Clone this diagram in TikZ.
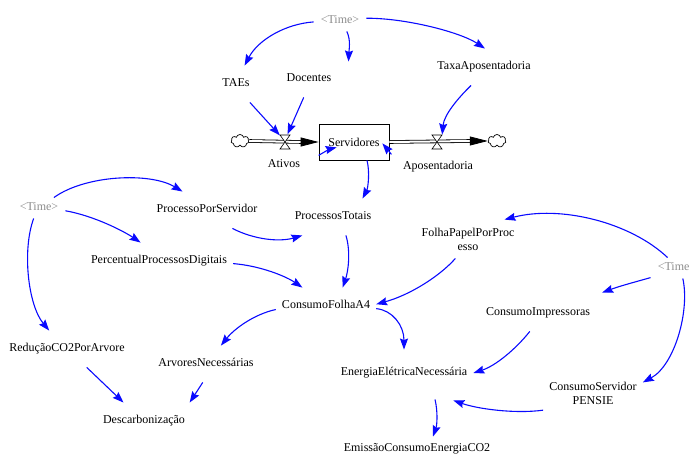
\documentclass[tikz,border=0pt]{standalone}
\usepackage{fontspec}
\setmainfont{Liberation Serif}
\usetikzlibrary{arrows.meta,shapes.symbols}
\definecolor{tgray}{RGB}{140,140,140}
\definecolor{lblue}{RGB}{10,10,255}
\begin{document}
\begin{tikzpicture}[x=1pt,y=1pt,
  every node/.style={font=\fontsize{12}{14}\selectfont},
  var/.style={inner xsep=6pt, inner ysep=13pt, text height=8pt, text depth=2.5pt},
  vartwo/.style={inner xsep=6pt, inner ysep=8pt, align=center},
  tvar/.style={text=tgray, inner xsep=7pt, inner ysep=5pt, text height=8pt, text depth=2.5pt},
  conn/.style={draw=lblue, line width=1.1pt, -{Stealth[length=11pt,width=8pt,inset=1.5pt]}},
  stockbox/.style={draw, line width=0.8pt, minimum width=70pt, minimum height=36pt, inner sep=0pt},
  valvept/.style={inner sep=0pt, minimum width=10pt, minimum height=15pt},
  cloudsh/.style={cloud, cloud puffs=7, aspect=1.3, draw, line width=0.7pt, minimum width=18pt, minimum height=13pt, inner sep=0pt},
  pipeline/.style={draw, double, double distance=2pt, line width=0.8pt},
  pipehead/.style={draw, line width=0.8pt, -{Triangle[length=18pt,width=9pt]}},
  valveglyph/.style={draw, line width=0.6pt, fill=white},
]
\useasboundingbox (0,0) rectangle (689,-457);

% nodes
\node[tvar] (timeT) at (340,-21) {\textless Time\textgreater};
\node[var] (taes) at (236,-84) {TAEs};
\node[var] (doc) at (309,-79) {Docentes};
\node[var] (taxa) at (484,-67) {TaxaAposentadoria};
\node[stockbox] (serv) at (354,-142) {Servidores};
\node[valvept] (ativosV) at (285,-142) {};
\node[valvept] (apoV) at (437,-142) {};
\node[cloudsh] (cloudL) at (240,-141) {};
\node[cloudsh] (cloudR) at (497,-141) {};
\node[var] (ativosL) at (284,-165) {Ativos};
\node[var] (apoL) at (438,-167) {Aposentadoria};
\node[tvar] (timeL) at (39,-208) {\textless Time\textgreater};
\node[var] (pps) at (207,-210) {ProcessoPorServidor};
\node[var] (pt) at (333,-217) {ProcessosTotais};
\node[var] (ppd) at (159,-261) {PercentualProcessosDigitais};
\node[vartwo] (fpp) at (468,-239) {FolhaPapelPorProc\\esso};
\node[tvar] (timeR) at (677,-268) {\textless Time\textgreater};
\node[var] (cfa4) at (326,-306) {ConsumoFolhaA4};
\node[var] (ci) at (538,-313) {ConsumoImpressoras};
\node[var] (red) at (67,-349) {ReduçãoCO2PorArvore};
\node[var] (arv) at (206,-364) {ArvoresNecessárias};
\node[var] (een) at (404,-373) {EnergiaElétricaNecessária};
\node[vartwo] (cs) at (593,-393) {ConsumoServidor\\PENSIE};
\node[var] (desc) at (144,-421) {Descarbonização};
\node[var] (emi) at (417,-449) {EmissãoConsumoEnergiaCO2};

% flows
\draw[pipeline] (cloudL.east) -- ([xshift=-17pt]serv.west);
\draw[pipehead] ([xshift=-18pt]serv.west) -- (serv.west);
\draw[pipeline] (serv.east) -- ([xshift=-17pt]cloudR.west);
\draw[pipehead] ([xshift=-18pt]cloudR.west) -- (cloudR.west);
\draw[valveglyph] ([shift={(-5,7)}]ativosV.center) -- ++(10,0) -- ++(-10,-14) -- ++(10,0) -- cycle;
\draw[valveglyph] ([shift={(-5,7)}]apoV.center) -- ++(10,0) -- ++(-10,-14) -- ++(10,0) -- cycle;

% connectors
\draw[conn] (timeT.182) .. controls (285,-24) and (258,-40) .. (taes.65);
\draw[conn] (timeT.303) .. controls (351,-40) and (349,-50) .. ([xshift=11pt,yshift=-1pt]doc.north east);
\draw[conn] (timeT.6) .. controls (405,-18) and (460,-32) .. (taxa.87);
\draw[conn] (taes.307) -- (ativosV.128);
\draw[conn] (doc.254) -- (ativosV.72);
\draw[conn] (taxa.235) .. controls (458,-98) and (444,-115) .. (apoV.55);
\draw[conn] ([yshift=5pt]serv.south west) .. controls (326,-151) and (330,-149) .. ([shift={(18pt,13pt)}]serv.south west);
\draw[conn] ([shift={(2pt,6pt)}]serv.south east) .. controls (388,-150) .. ([shift={(-7pt,17pt)}]serv.south east);
\draw[conn] ([xshift=13pt]serv.south) .. controls (370,-172) and (368,-188) .. (pt.32);
\draw[conn] (timeL.35) .. controls (85,-175) and (150,-172) .. (pps.143);
\draw[conn] (timeL.354) .. controls (95,-216) and (125,-232) .. (ppd.135);
\draw[conn] (timeL.243) .. controls (22,-250) and (28,-305) .. (red.134);
\draw[conn] (pps.324) .. controls (255,-240) and (280,-242) .. (pt.211);
\draw[conn] (ppd.-2) .. controls (262,-266) and (287,-277) .. (cfa4.142);
\draw[conn] (pt.305) .. controls (351,-252) and (348,-272) .. (cfa4.48);
\draw[conn] (fpp.237) .. controls (440,-276) and (410,-295) .. (cfa4.2);
\draw[conn] (timeR.132) .. controls (630,-222) and (560,-205) .. (fpp.28);
\draw[conn] (timeR.200) .. controls (635,-282) and (620,-286) .. ([xshift=6pt,yshift=2pt]ci.north east);
\draw[conn] (timeR.299) .. controls (690,-310) and (675,-365) .. (cs.12);
\draw[conn] (cfa4.-3) .. controls (392,-310) and (404,-325) .. ([yshift=5pt]een.north);
\draw[conn] (cfa4.184) .. controls (255,-314) and (235,-328) .. (arv.51);
\draw[conn] (ci.246) .. controls (515,-350) and (495,-366) .. (een.0);
\draw[conn] (cs.199) .. controls (515,-414) and (478,-409) .. ([shift={(-20pt,-9pt)}]een.south east);
\draw[conn] ([xshift=31pt,yshift=-8pt]een.south) .. controls (438,-412) and (437,-425) .. ([xshift=16pt,yshift=-6pt]emi.north);
\draw[conn] (red.317) -- (desc.138);
\draw[conn] (arv.260) -- (desc.22);
\end{tikzpicture}
\end{document}
